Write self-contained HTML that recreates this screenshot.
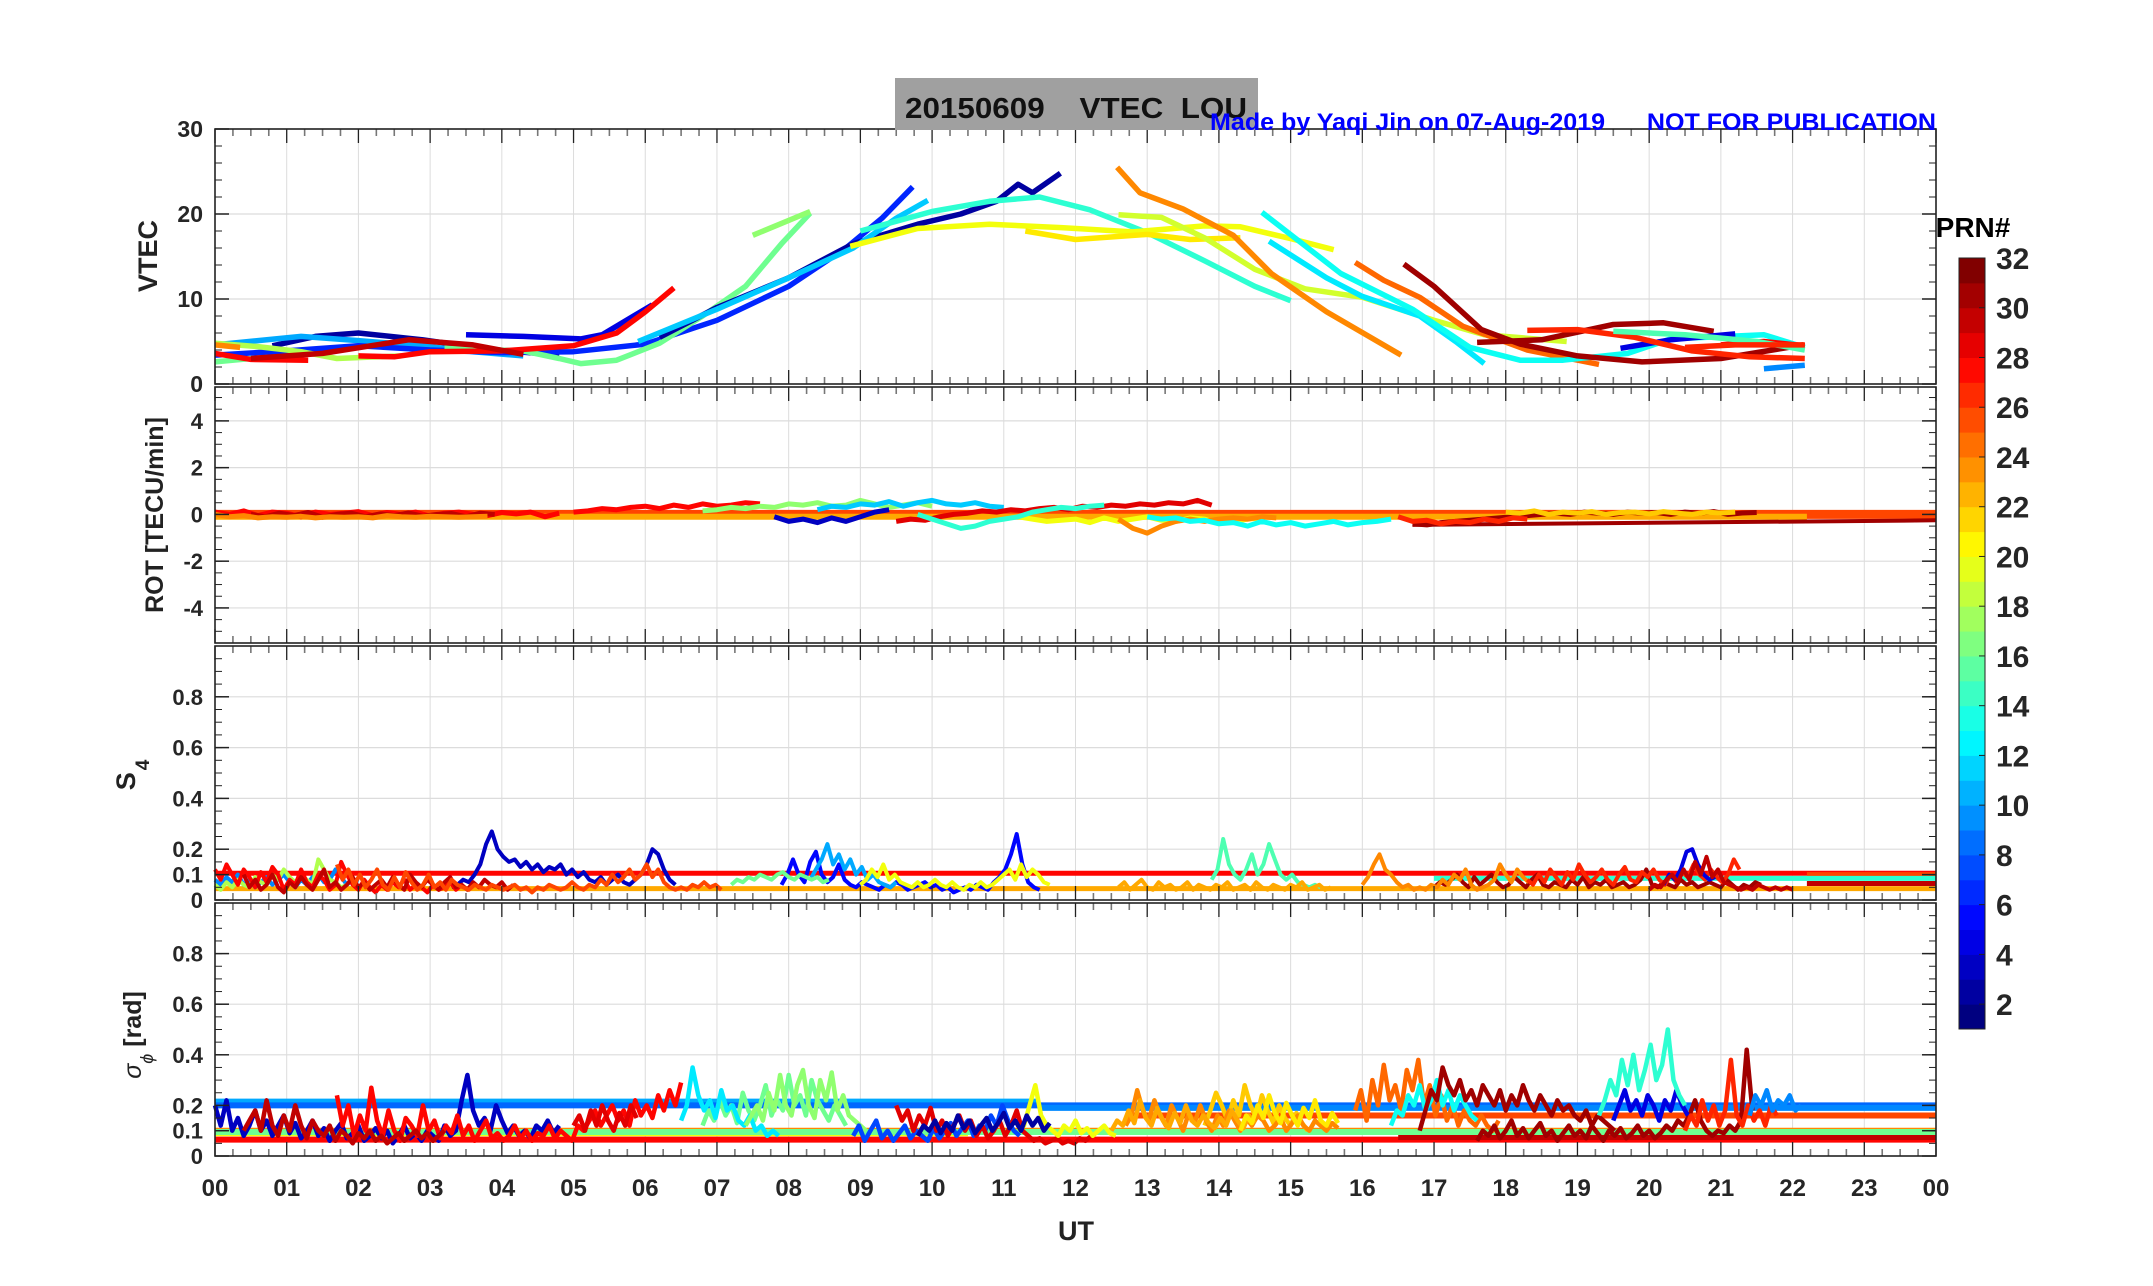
<!DOCTYPE html>
<html><head><meta charset="utf-8"><style>
html,body{margin:0;padding:0;background:#fff;}
svg{display:block;font-family:"Liberation Sans",Arial,sans-serif;}
</style></head><body>
<svg id="fig" width="2153" height="1286" viewBox="0 0 2153 1286" xmlns="http://www.w3.org/2000/svg">
<rect width="2153" height="1286" fill="#fff"/>
<g id="grids"></g>
<g id="marks"></g>
<g id="axes"></g>
<rect x="895" y="78" width="363" height="52" fill="#a0a0a0"/>
<text x="905" y="118" font-size="29" font-weight="bold" fill="#111" textLength="342" lengthAdjust="spacingAndGlyphs" xml:space="preserve">20150609    VTEC  LOU</text>
<text x="1210" y="130" font-size="24" font-weight="bold" fill="#0000ff" textLength="726" lengthAdjust="spacingAndGlyphs" xml:space="preserve">Made by Yaqi Jin on 07-Aug-2019      NOT FOR PUBLICATION</text>
<text transform="translate(157,256) rotate(-90)" text-anchor="middle" font-size="27" font-weight="bold" fill="#222">VTEC</text>
<text transform="translate(163,515) rotate(-90)" text-anchor="middle" font-size="25" font-weight="bold" fill="#222">ROT [TECU/min]</text>
<text transform="translate(135,775) rotate(-90)" text-anchor="middle" font-size="27" font-weight="bold" fill="#222">S<tspan font-size="19" dy="14" dx="2">4</tspan></text>
<text transform="translate(141,1035) rotate(-90)" text-anchor="middle" font-size="25" font-weight="bold" fill="#222"><tspan font-style="italic" font-weight="normal">σ</tspan><tspan font-size="18" dy="12" font-style="italic" font-weight="normal">ϕ</tspan><tspan dy="-12"> [rad]</tspan></text>
<text x="1076" y="1240" text-anchor="middle" font-size="27" font-weight="bold" fill="#222">UT</text>
<text x="1973" y="237" text-anchor="middle" font-size="28" font-weight="bold" fill="#000">PRN#</text>
<g id="cbar"></g>
</svg>
<script>
// ---------- data ----------
const xTickLabels = ["00","01","02","03","04","05","06","07","08","09","10","11","12","13","14","15","16","17","18","19","20","21","22","23","00"];
const vtecTicks = [0,10,20,30];
const rotTicks = [-4,-2,0,2,4];
const s4Ticks = [0,0.1,0.2,0.4,0.6,0.8];
const sigTicks = [0,0.1,0.2,0.4,0.6,0.8];
const cbarTicks = [2,4,6,8,10,12,14,16,18,20,22,24,26,28,30,32];

// VTEC arcs: PRN and [hour, TECU] points
const vtecPrn = [2,10,4,6,18,16,16,28,28,30,24,2,11,17,14,20,21,19,24,25,12,13,31,31,4,27,28,9,15,27];
const vtecPts = [
 [[0.8,4.5],[1.4,5.6],[2.0,6.0],[2.9,5.2],[3.8,4.1],[4.8,3.4]],
 [[0,4.6],[0.6,5.1],[1.2,5.6],[2.0,5.1],[2.9,4.5],[3.6,3.8],[4.3,3.3]],
 [[3.5,5.8],[4.3,5.6],[5.1,5.3],[5.4,5.8],[6.1,9.3]],
 [[0,3.4],[1.0,3.9],[2.0,4.5],[3.0,4.0],[4.0,3.7],[5.0,3.8],[6.0,4.7],[7.0,7.5],[8.0,11.5],[8.8,16],[9.3,19.5],[9.73,23.2]],
 [[0,4.8],[0.6,4.4],[1.2,3.8],[1.7,3.0],[2.6,3.3]],
 [[0,2.6],[0.5,3.0],[1.0,3.1]],
 [[3.2,4.2],[4.3,3.9],[4.8,3.0],[5.1,2.4],[5.6,2.8],[6.2,4.8],[6.8,8.0],[7.4,11.5],[7.9,16.5],[8.3,20.1]],
 [[0,3.6],[0.5,2.9],[1.3,2.8]],
 [[2.0,3.3],[2.5,3.2],[3.0,3.8],[4.0,3.9],[5.0,4.5],[5.6,6.0],[6.0,8.5],[6.4,11.3]],
 [[0.5,3.0],[1.5,3.6],[2.7,5.2],[3.6,4.6],[4.3,3.5]],
 [[0,4.6],[0.35,4.3]],
 [[6.2,5.5],[7.0,9.0],[8.0,12.5],[8.9,16.5],[9.8,18.8],[10.4,20],[10.9,21.5],[11.2,23.5],[11.4,22.5],[11.79,24.8]],
 [[5.9,5.0],[7.0,8.8],[8.0,12.5],[8.9,16],[9.5,19.5],[9.94,21.6]],
 [[7.5,17.5],[8.3,20.3]],
 [[9.0,18],[10.0,20.3],[10.8,21.5],[11.5,22],[12.2,20.5],[13.0,17.8],[13.8,14.5],[14.5,11.5],[15.0,9.8]],
 [[8.86,16.2],[9.8,18.3],[10.8,18.8],[11.8,18.4],[12.8,17.9],[13.8,18.6],[14.3,18.5],[15.0,17.1],[15.6,15.8]],
 [[11.3,18.0],[12.0,17.0],[13.0,17.6],[13.6,17.0],[14.3,17.2]],
 [[12.6,19.9],[13.2,19.6],[13.8,17.2],[14.5,13.5],[15.2,11.2],[16.0,10.2],[17.0,7.5],[17.7,5.8],[18.85,5.0]],
 [[12.58,25.5],[12.9,22.5],[13.5,20.6],[14.2,17.5],[14.73,13.0],[15.5,8.5],[16.54,3.4]],
 [[15.9,14.3],[16.3,12.2],[16.8,10.2],[17.4,6.8],[18.3,4.0],[19.3,2.3]],
 [[14.7,16.8],[15.5,12.5],[16.0,10.3],[16.8,8.0],[17.3,5.0],[17.7,2.4]],
 [[14.6,20.2],[15.7,13.0],[16.7,8.8],[17.5,4.3],[18.2,2.8],[18.8,2.8],[19.7,3.6],[20.3,5.3],[21.6,5.8],[22.17,4.3]],
 [[16.58,14.1],[17.0,11.5],[17.66,6.4],[18.2,4.7],[19.0,3.3],[19.9,2.6],[21.0,3.0],[22.15,4.6]],
 [[17.6,4.9],[18.5,5.2],[19.5,7.0],[20.2,7.2],[20.9,6.2]],
 [[19.6,4.2],[20.3,5.2],[21.2,5.9]],
 [[18.3,6.3],[19.0,6.4],[19.8,5.5],[20.6,3.9],[21.4,3.2],[22.17,3.0]],
 [[21.0,4.6],[21.6,5.0],[22.17,4.5]],
 [[21.6,1.8],[22.17,2.2]],
 [[19.5,6.2],[20.5,5.8],[21.5,5.0],[22.17,4.0]],
 [[20.5,4.3],[21.2,4.6],[22.17,4.6]]
];

// ROT arcs: PRN, start hour, step hour, values (TECU/min)
const rotPrn = [28,30,24,28,17,11,3,29,20,14,24,13,31,27,22];
const rotStart = [0,0.5,0,5.0,6.8,8.4,7.8,9.5,11.2,9.8,12.6,13.0,16.7,16.5,18.0];
const rotVals = [
 [0.1,0.0,0.15,-0.05,0.1,0.05,-0.1,0.1,0.0,0.05,0.12,-0.05,0.08,0.0,0.1,-0.08,0.05,0.1,0.0,-0.05,0.08,0.02,0.1,-0.1,0.05],
 [0.0,-0.1,0.05,-0.05,0.08,-0.12,0.0,0.05,-0.1,0.02,-0.05,0.06,-0.08,0.0,0.04,-0.1,0.05,0.0],
 [0.0,-0.1,-0.05,-0.15,-0.1,-0.12,-0.08,-0.15,-0.1,-0.12,-0.1,-0.15,-0.05,-0.1,-0.12,-0.08,-0.1,-0.12,-0.1,-0.08],
 [0.1,0.15,0.25,0.2,0.3,0.35,0.25,0.4,0.3,0.45,0.35,0.4,0.5,0.45],
 [0.15,0.2,0.3,0.25,0.35,0.3,0.45,0.4,0.5,0.35,0.4,0.6,0.45,0.3,0.4,0.5,0.35],
 [0.2,0.35,0.3,0.45,0.4,0.55,0.35,0.5,0.6,0.45,0.4,0.5,0.35,0.3],
 [-0.1,-0.3,-0.2,-0.35,-0.15,-0.3,-0.1,0.1,0.2],
 [-0.3,-0.2,-0.25,-0.1,0.0,0.05,0.15,0.1,0.2,0.15,0.25,0.3,0.2,0.35,0.3,0.4,0.35,0.45,0.4,0.5,0.45,0.6,0.4],
 [-0.1,-0.2,-0.3,-0.25,-0.2,-0.35,-0.15,-0.3,-0.2,-0.1,-0.25,-0.3,-0.15,-0.2,-0.4,-0.3,-0.2,-0.15],
 [0.0,-0.2,-0.4,-0.6,-0.5,-0.3,-0.2,-0.1,0.1,0.2,0.3,0.25,0.35,0.4],
 [-0.2,-0.6,-0.8,-0.5,-0.3,-0.2,-0.3,-0.2,-0.15,-0.2,-0.1,-0.15],
 [-0.1,-0.2,-0.15,-0.3,-0.25,-0.4,-0.35,-0.5,-0.3,-0.45,-0.35,-0.5,-0.4,-0.3,-0.45,-0.35,-0.3,-0.2],
 [-0.4,-0.45,-0.35,-0.3,-0.25,-0.2,-0.15,-0.1,-0.05,0.0,0.05,0.0,0.1,0.05,0.0,0.1,0.05,0.08,0.0,0.1,0.05,0.12,0.0,0.06,0.08],
 [-0.1,-0.3,-0.25,-0.4,-0.3,-0.35,-0.2,-0.3,-0.15,-0.2],
 [0.1,0.05,0.15,0.0,0.1,0.05,0.12,0.0,0.08,0.1,0.02,0.12,0.05,0.0,0.1,0.06,0.1]
];
const rotStep = 0.2;

// S4 arcs: PRN, start hour, values (step 0.08 h)
const s4Prn = [3,9,18,28,30,26,5,10,20,16,15,31,24,27,4,30,23];
const s4Start = [3.3,0.0,0.0,0.0,0.4,1.7,7.9,8.3,9.0,7.2,13.9,17.0,16.0,18.3,20.2,20.0,12.6];
const s4Vals = [
 [0.05,0.06,0.08,0.07,0.1,0.14,0.22,0.27,0.2,0.17,0.15,0.16,0.13,0.15,0.12,0.14,0.11,0.13,0.12,0.14,0.1,0.12,0.09,0.11,0.08,0.07,0.09,0.06,0.08,0.1,0.07,0.06,0.08,0.1,0.14,0.2,0.18,0.12,0.08,0.06],
 [0.08,0.06,0.09,0.07,0.1,0.06,0.08,0.05,0.07,0.09,0.06,0.08,0.1,0.07,0.05,0.08,0.06,0.09,0.1,0.07,0.08,0.12,0.09,0.06,0.08,0.07],
 [0.06,0.04,0.07,0.05,0.08,0.06,0.05,0.09,0.07,0.06,0.1,0.08,0.12,0.09,0.07,0.1,0.08,0.06,0.16,0.12,0.08,0.07,0.05,0.06],
 [0.12,0.08,0.14,0.1,0.06,0.12,0.09,0.05,0.11,0.07,0.13,0.1,0.04,0.08,0.06,0.12,0.07,0.05,0.1,0.08,0.04,0.06,0.15,0.1,0.06,0.04,0.08,0.05,0.03,0.06,0.04,0.07,0.05,0.08,0.04,0.06,0.05,0.03,0.06,0.04,0.05,0.07,0.04,0.06],
 [0.1,0.05,0.08,0.04,0.06,0.1,0.05,0.03,0.07,0.05,0.09,0.06,0.04,0.08,0.12,0.05,0.07,0.04,0.06,0.09,0.05,0.07,0.04,0.06,0.08,0.05,0.09,0.06,0.04,0.1,0.07,0.05,0.08,0.06,0.04,0.07,0.09,0.05,0.06,0.04,0.07,0.05,0.08,0.06,0.05,0.07,0.04,0.06],
 [0.14,0.08,0.12,0.06,0.1,0.05,0.08,0.12,0.06,0.04,0.09,0.05,0.11,0.07,0.04,0.06,0.1,0.05,0.07,0.04,0.08,0.06,0.05,0.04,0.06,0.05,0.04,0.06,0.05,0.04,0.05,0.06,0.04,0.05,0.03,0.05,0.04,0.06,0.05,0.04,0.05,0.07,0.05,0.04,0.06,0.05,0.08,0.06,0.1,0.07,0.09,0.12,0.08,0.1,0.14,0.09,0.12,0.07,0.05,0.04,0.05,0.04,0.06,0.05,0.07,0.05,0.06,0.04],
 [0.06,0.1,0.16,0.1,0.07,0.15,0.19,0.1,0.07,0.09,0.14,0.08,0.06,0.05,0.07,0.06,0.05,0.04,0.06,0.05,0.07,0.06,0.04,0.05,0.06,0.07,0.05,0.06,0.04,0.05,0.03,0.04,0.05,0.04,0.06,0.05,0.04,0.07,0.09,0.12,0.18,0.26,0.14,0.07,0.05,0.04],
 [0.08,0.12,0.16,0.22,0.14,0.18,0.12,0.16,0.1,0.13,0.08,0.1,0.07,0.06,0.05,0.07],
 [0.06,0.08,0.12,0.09,0.14,0.08,0.1,0.07,0.06,0.05,0.07,0.05,0.06,0.08,0.06,0.05,0.07,0.05,0.04,0.06,0.05,0.07,0.05,0.06,0.08,0.1,0.12,0.08,0.14,0.09,0.12,0.1,0.07,0.06],
 [0.06,0.08,0.07,0.09,0.08,0.1,0.09,0.08,0.1,0.11,0.09,0.08,0.1,0.09,0.08,0.09,0.07,0.08],
 [0.08,0.12,0.24,0.14,0.1,0.08,0.12,0.18,0.1,0.14,0.22,0.16,0.1,0.08,0.1,0.07,0.06,0.05,0.06,0.05],
 [0.05,0.07,0.06,0.08,0.1,0.07,0.05,0.09,0.06,0.08,0.1,0.07,0.05,0.06,0.09,0.07,0.05,0.08,0.1,0.06,0.05,0.07,0.06,0.05,0.08,0.06,0.09,0.05,0.07,0.06,0.08,0.05,0.06,0.07,0.05,0.06,0.08,0.12,0.06,0.05,0.07,0.06,0.05,0.08,0.06,0.07,0.05,0.06,0.07,0.06,0.05,0.08,0.06,0.04,0.06,0.05,0.07,0.06],
 [0.06,0.09,0.14,0.18,0.12,0.1,0.07,0.05,0.06,0.04,0.05,0.04,0.06,0.05,0.08,0.06,0.1,0.08,0.12,0.06,0.04,0.05,0.06,0.08,0.14,0.1,0.07,0.12,0.09,0.07],
 [0.08,0.06,0.1,0.07,0.12,0.09,0.06,0.11,0.08,0.14,0.1,0.07,0.09,0.12,0.08,0.06,0.1,0.13,0.08,0.07,0.11,0.09,0.12,0.08,0.06,0.1,0.07,0.11,0.09,0.14,0.1,0.08,0.12,0.09,0.07,0.1,0.16,0.12],
 [0.06,0.1,0.08,0.12,0.19,0.2,0.14,0.1,0.08,0.09],
 [0.04,0.06,0.05,0.08,0.1,0.07,0.12,0.08,0.15,0.1,0.17,0.09,0.12,0.07,0.06,0.05,0.04,0.05,0.04,0.06,0.05,0.04,0.05,0.04,0.05,0.04],
 [0.05,0.07,0.04,0.06,0.08,0.05,0.04,0.07,0.05,0.06,0.04,0.05,0.07,0.04,0.06,0.05,0.04,0.06,0.05,0.07,0.04,0.05,0.06,0.04,0.07,0.05,0.04,0.06,0.05,0.04,0.06,0.05,0.07,0.04,0.05,0.06,0.04,0.05]
];
const s4Step = 0.08;
const s4LinePrn = [28,26,23,30,14];
const s4LineFrom = [0.0,22.2,0.0,22.2,17.0];
const s4LineTo = [24,24,24,24,24];
const s4LineVal = [0.105,0.1,0.045,0.065,0.085];

// sigma-phi arcs
const sigPrn = [3,28,30,29,16,12,17,7,29,20,22,24,25,13,31,31,4,14,27,9,2,23,21];
const sigStart = [0.0,1.7,0.4,5.0,6.8,6.5,7.4,8.9,9.5,11.2,13.8,12.7,15.9,16.4,16.8,17.6,19.5,19.3,20.5,21.4,9.8,12.5,14.3];
const sigVals = [
 [0.2,0.12,0.22,0.1,0.15,0.08,0.12,0.18,0.1,0.14,0.08,0.12,0.16,0.09,0.13,0.07,0.1,0.14,0.08,0.11,0.06,0.1,0.13,0.07,0.09,0.12,0.06,0.08,0.11,0.07,0.1,0.05,0.08,0.12,0.07,0.09,0.06,0.1,0.08,0.06,0.12,0.08,0.1,0.22,0.32,0.18,0.12,0.15,0.1,0.2,0.14,0.09,0.12,0.08,0.1,0.07,0.12,0.1,0.14,0.09,0.12],
 [0.24,0.12,0.2,0.08,0.16,0.1,0.27,0.14,0.08,0.18,0.1,0.06,0.15,0.12,0.08,0.2,0.1,0.14,0.07,0.12,0.09,0.16,0.08,0.12,0.06,0.1,0.14,0.07,0.09,0.06,0.08,0.12,0.07,0.1,0.06,0.09,0.08,0.12,0.07,0.1,0.08,0.06,0.12,0.1,0.14,0.18,0.12,0.16,0.2,0.14,0.18,0.12,0.22,0.16,0.2,0.15,0.24,0.18,0.26,0.2,0.29],
 [0.1,0.14,0.18,0.1,0.22,0.12,0.08,0.16,0.1,0.2,0.12,0.07,0.14,0.1,0.08,0.12,0.06,0.1,0.08,0.05,0.09,0.07,0.1,0.06,0.08,0.05,0.07,0.09,0.06,0.08,0.1,0.07,0.09,0.06,0.08,0.1],
 [0.12,0.16,0.1,0.18,0.12,0.2,0.14,0.1,0.17,0.12,0.2,0.15],
 [0.12,0.18,0.14,0.22,0.16,0.2,0.13,0.25,0.18,0.14,0.2,0.28,0.16,0.22,0.18,0.32,0.2,0.24,0.16,0.3,0.22,0.18,0.14,0.2,0.16,0.12],
 [0.14,0.2,0.35,0.24,0.18,0.22,0.15,0.26,0.18,0.2,0.14,0.12,0.16,0.1,0.12,0.08,0.1,0.08],
 [0.12,0.16,0.2,0.14,0.25,0.18,0.32,0.2,0.16,0.28,0.34,0.2,0.15,0.3,0.22,0.33,0.18,0.24,0.16,0.14,0.12,0.1],
 [0.08,0.12,0.06,0.1,0.14,0.07,0.1,0.06,0.09,0.12,0.07,0.1,0.08,0.06,0.11,0.07,0.1,0.13,0.08,0.11,0.14,0.08,0.12,0.1,0.16,0.12,0.2,0.14,0.1,0.08],
 [0.2,0.14,0.18,0.1,0.16,0.12,0.19,0.1,0.14,0.08,0.12,0.16,0.1,0.14,0.08,0.12,0.07,0.1,0.14,0.08,0.12,0.18,0.1,0.08,0.06,0.07,0.05,0.06,0.07,0.05,0.06,0.05,0.07,0.06,0.08],
 [0.1,0.12,0.2,0.28,0.16,0.12,0.1,0.08,0.12,0.1,0.14,0.09,0.11,0.08,0.1,0.12,0.09,0.08],
 [0.12,0.18,0.25,0.2,0.14,0.22,0.16,0.28,0.2,0.15,0.24,0.18,0.13,0.2,0.15,0.12,0.17,0.13,0.1],
 [0.12,0.16,0.26,0.18,0.14,0.22,0.16,0.12,0.2,0.15,0.1,0.17,0.13,0.2,0.14,0.1,0.16,0.12,0.18,0.14,0.1,0.15,0.12,0.16,0.14,0.1,0.12,0.15,0.1,0.13,0.16,0.12,0.1,0.14,0.12,0.1,0.13,0.11],
 [0.18,0.26,0.14,0.3,0.2,0.36,0.22,0.28,0.18,0.34,0.26,0.38,0.2,0.28,0.16,0.24,0.14,0.2,0.12,0.18,0.14,0.12,0.16,0.12,0.1,0.14],
 [0.12,0.18,0.16,0.24,0.2,0.28,0.18,0.22,0.3,0.2,0.26,0.18,0.24,0.2,0.16,0.14],
 [0.1,0.18,0.26,0.22,0.35,0.28,0.24,0.3,0.22,0.26,0.2,0.28,0.24,0.2,0.26,0.18,0.24,0.2,0.28,0.22,0.18,0.24,0.2,0.16,0.22,0.18,0.2,0.16,0.14,0.18,0.12,0.16,0.14,0.12,0.1],
 [0.06,0.1,0.08,0.12,0.07,0.1,0.14,0.08,0.11,0.07,0.1,0.13,0.08,0.1,0.06,0.09,0.12,0.08,0.1,0.07,0.12,0.09,0.06,0.1,0.08,0.11,0.07,0.09,0.12,0.08,0.1,0.07,0.09,0.12,0.1,0.14,0.12,0.16,0.22,0.14,0.1,0.08,0.1,0.09,0.12,0.1,0.14,0.42,0.18],
 [0.14,0.2,0.26,0.18,0.22,0.16,0.24,0.2,0.14,0.22,0.18,0.26,0.2,0.16],
 [0.16,0.22,0.3,0.24,0.38,0.28,0.4,0.26,0.34,0.44,0.3,0.36,0.5,0.3,0.24,0.2],
 [0.1,0.16,0.12,0.22,0.14,0.2,0.12,0.18,0.38,0.16,0.12,0.2,0.14,0.18,0.12,0.2,0.16],
 [0.16,0.24,0.2,0.26,0.18,0.22,0.2,0.24,0.18,0.2],
 [0.08,0.12,0.1,0.14,0.09,0.13,0.1,0.16,0.11,0.14,0.09,0.12,0.15,0.1,0.13,0.17,0.11,0.14,0.1,0.16,0.12,0.15,0.1,0.13],
 [0.1,0.14,0.12,0.18,0.13,0.22,0.15,0.12,0.19,0.14,0.11,0.17,0.13,0.2,0.14,0.12,0.16,0.13,0.11,0.15,0.12,0.18,0.14,0.11,0.16,0.13],
 [0.1,0.16,0.13,0.2,0.15,0.24,0.17,0.13,0.21,0.16,0.12,0.19,0.15,0.22,0.14,0.12,0.17,0.13]
];
const sigStep = 0.08;
const sigLinePrn = [10,8,9,24,26,28,30,20,16];
const sigLineFrom = [0.0,0.0,11.5,0.0,12.8,0.0,16.5,0.0,0.0];
const sigLineTo = [11.5,24,24,24,24,24,24,10.5,24];
const sigLineVal = [0.215,0.2,0.19,0.1,0.16,0.065,0.075,0.09,0.095];

// ---------- layout ----------
const X0=215, X1=1936;
const panels = {
 vtec:{top:129,bot:384,min:0,max:30},
 rot:{top:387,bot:643,min:-5.5,max:5.45},
 s4:{top:646,bot:900,min:0,max:1},
 sig:{top:903,bot:1156,min:0,max:1}
};
const xs = h => X0 + h/24*(X1-X0);
const ys = (p,v) => p.bot - (v-p.min)/(p.max-p.min)*(p.bot-p.top);
function jet(prn){
 const v=(prn-1)/31; const c=t=>Math.max(0,Math.min(1,t));
 const r=c(1.5-Math.abs(4*v-3)), g=c(1.5-Math.abs(4*v-2)), b=c(1.5-Math.abs(4*v-1));
 return `rgb(${Math.round(r*255)},${Math.round(g*255)},${Math.round(b*255)})`;
}
const NS="http://www.w3.org/2000/svg";
const G=document.getElementById('grids'), M=document.getElementById('marks'), A=document.getElementById('axes'), CB=document.getElementById('cbar');
function mk(tag, attrs, parent){const e=document.createElementNS(NS,tag); for(const k in attrs) e.setAttribute(k,attrs[k]); parent.appendChild(e); return e;}

const tickSets = {vtec:vtecTicks, rot:rotTicks, s4:s4Ticks, sig:sigTicks};
for(const key in panels){
 const p=panels[key];
 for(let h=1;h<24;h++){
  const gl=mk('line',{x1:xs(h),x2:xs(h),y1:p.top,y2:p.bot,stroke:'#dcdcdc','stroke-width':1},G);
  
  
 }
 tickSets[key].forEach(t=>{
  const y=ys(p,t);
  if(t!==p.min && t!==0 || key==='rot'){
   const gl=mk('line',{x1:X0,x2:X1,y1:y,y2:y,stroke:'#dcdcdc','stroke-width':1.2},G);
   
   
  }
  const tk=mk('line',{x1:X0,x2:X0+14,y1:y,y2:y,stroke:'#222','stroke-width':1.5},A);
  
  
  mk('line',{x1:X1-14,x2:X1,y1:y,y2:y,stroke:'#222','stroke-width':1.5},A);
  const lb=mk('text',{x:203,y:y+8,'text-anchor':'end','font-size':(key==='vtec'?23:22),'font-weight':'bold',fill:'#262626'},A);
  lb.textContent = (key==='s4'||key==='sig') ? (t===0?'0':t.toFixed(1)) : String(t);
  
  
 });
 const minorStep = key==='vtec'?2:(key==='rot'?0.5:0.05);
 for(let v=Math.ceil(p.min/minorStep)*minorStep; v<=p.max+1e-9; v+=minorStep){
  const y=ys(p,v);
  mk('line',{x1:X0,x2:X0+7,y1:y,y2:y,stroke:'#222','stroke-width':1},A);
  mk('line',{x1:X1-7,x2:X1,y1:y,y2:y,stroke:'#222','stroke-width':1},A);
 }
 for(let q=0;q<=96;q++){
  const x=xs(q/4), major=(q%4===0);
  mk('line',{x1:x,x2:x,y1:p.top,y2:p.top+(major?14:7),stroke:major?'#222':'#777','stroke-width':major?1.3:1.6},A);
  mk('line',{x1:x,x2:x,y1:p.bot-(major?14:7),y2:p.bot,stroke:major?'#222':'#777','stroke-width':major?1.3:1.6},A);
 }
 const box=mk('rect',{x:X0,y:p.top,width:X1-X0,height:p.bot-p.top,fill:'none',stroke:'#222','stroke-width':1.6},A);
 
 
}
xTickLabels.forEach((s,i)=>{
 const t=mk('text',{x:xs(i),y:1196,'text-anchor':'middle','font-size':24,'font-weight':'bold',fill:'#262626'},A);
 t.textContent=s;
 
 
});

function poly(pts, prn, w, name){
 const e=mk('polyline',{points:pts.map(q=>q[0].toFixed(1)+','+q[1].toFixed(1)).join(' '),fill:'none',stroke:jet(prn),'stroke-width':w,'stroke-linejoin':'round','stroke-linecap':'butt'},M);
 
 
 return e;
}
vtecPts.forEach((arc,i)=>{
 poly(arc.map(q=>[xs(q[0]), ys(panels.vtec,q[1])]), vtecPrn[i], 5.5, 'vtec-line-prn'+vtecPrn[i]);
});
poly([[xs(0),ys(panels.rot,0)],[xs(24),ys(panels.rot,0)]],26,9,'rot-baseline');
poly([[xs(0),ys(panels.rot,-0.1)],[xs(22.2),ys(panels.rot,-0.1)]],23,6,'rot-baseline-orange');
poly([[xs(16.7),ys(panels.rot,-0.45)],[xs(24),ys(panels.rot,-0.25)]],31,4,'rot-baseline-darkred');
rotVals.forEach((vals,i)=>{
 poly(vals.map((v,k)=>[xs(rotStart[i]+k*rotStep), ys(panels.rot,v)]), rotPrn[i], 5, 'rot-line-prn'+rotPrn[i]);
});
s4LineVal.forEach((v,i)=>{
 poly([[xs(s4LineFrom[i]),ys(panels.s4,v)],[xs(s4LineTo[i]),ys(panels.s4,v)]], s4LinePrn[i], 5, 's4-level-line');
});
s4Vals.forEach((vals,i)=>{
 poly(vals.map((v,k)=>[xs(s4Start[i]+k*s4Step), ys(panels.s4,v)]), s4Prn[i], 4, 's4-line-prn'+s4Prn[i]);
});
sigLineVal.forEach((v,i)=>{
 poly([[xs(sigLineFrom[i]),ys(panels.sig,v)],[xs(sigLineTo[i]),ys(panels.sig,v)]], sigLinePrn[i], 6, 'sigma-level-line');
});
sigVals.forEach((vals,i)=>{
 poly(vals.map((v,k)=>[xs(sigStart[i]+k*sigStep), ys(panels.sig,v)]), sigPrn[i], 4.5, 'sigma-line-prn'+sigPrn[i]);
});

const CB0=1959, CB1=1985, CBT=258, CBB=1029, CMIN=1, CMAX=32;
const cy = v => CBB - (v-CMIN)/(CMAX-CMIN)*(CBB-CBT);
for(let k=0;k<31;k++){
 const prn=1+k; const y1=cy(CMIN+k+1), y0=cy(CMIN+k);
 const r=mk('rect',{x:CB0,y:y1,width:CB1-CB0,height:y0-y1+0.5,fill:jet(prn+(k/31))},CB);
 
 
}
const cbf=mk('rect',{x:CB0,y:CBT,width:CB1-CB0,height:CBB-CBT,fill:'none',stroke:'#222','stroke-width':1},CB);


cbarTicks.forEach(t=>{
 const y=cy(t);
 mk('line',{x1:CB1-6,x2:CB1,y1:y,y2:y,stroke:'#222','stroke-width':1},CB);
 const lb=mk('text',{x:1996,y:y+11,'font-size':30,'font-weight':'bold',fill:'#262626'},CB);
 lb.textContent=String(t);
 
 
});
</script>
</body></html>
